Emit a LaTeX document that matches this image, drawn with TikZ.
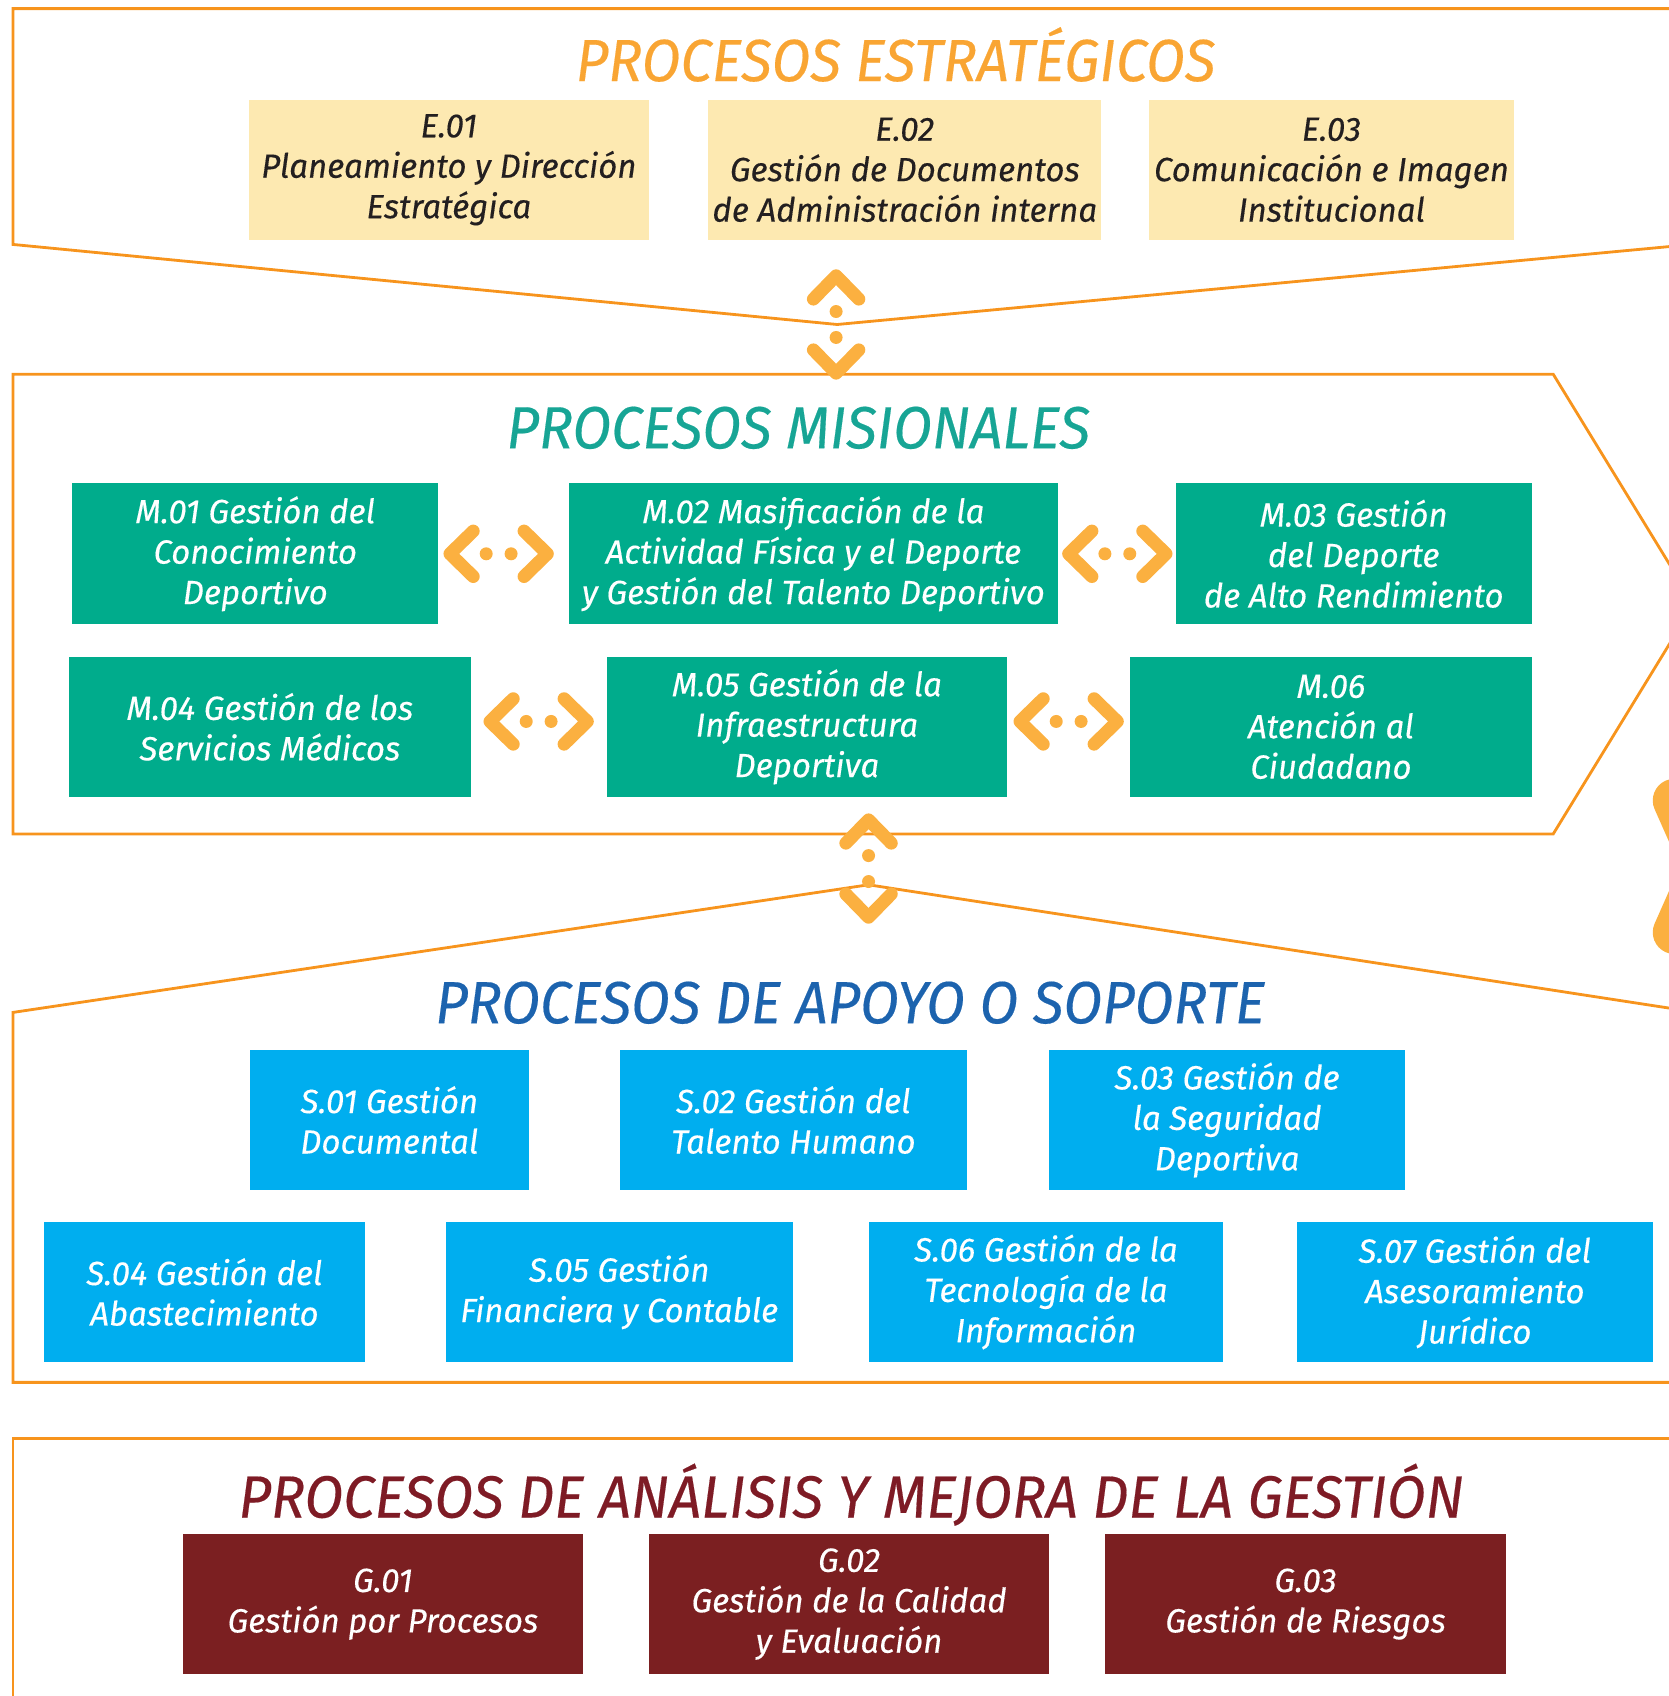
\documentclass[tikz,border=0pt]{standalone}
\usepackage{fontspec}
\setmainfont{Fira Sans}
\newfontfamily\boxfont[FakeStretch=0.985,FakeBold=0.3]{Fira Sans}
\newfontfamily\titlefont[FakeStretch=0.95,FakeBold=0.3]{Fira Sans}

\definecolor{lineorange}{HTML}{F7941D}
\definecolor{iconorange}{HTML}{FBB040}
\definecolor{titleorange}{HTML}{F9A533}
\definecolor{eyellow}{HTML}{FDE9B1}
\definecolor{textdark}{HTML}{231F20}
\definecolor{titleteal}{HTML}{17A595}
\definecolor{boxteal}{HTML}{00AC8C}
\definecolor{titleblue}{HTML}{1C63AE}
\definecolor{boxblue}{HTML}{00AEEF}
\definecolor{titlered}{HTML}{7E1B25}
\definecolor{boxred}{HTML}{7B1F21}

\begin{document}
\begin{tikzpicture}[x=0.5pt,y=-0.5pt]
		\tikzstyle{frame}=[draw=lineorange,line width=1.3pt]
		\tikzstyle{box}=[inner sep=0pt,align=center,minimum height=65pt,font=\boxfont\itshape\fontsize{15.5}{18.7}\selectfont]
		\tikzstyle{ebox}=[box,fill=eyellow,text=textdark]
		\tikzstyle{mbox}=[box,fill=boxteal,text=white]
		\tikzstyle{sbox}=[box,fill=boxblue,text=white,minimum height=64.5pt]
		\tikzstyle{gbox}=[box,fill=boxred,text=white]
		\tikzstyle{title}=[inner sep=0pt,anchor=base,font=\titlefont\itshape\fontsize{27.5}{30}\selectfont]
		\tikzstyle{chev}=[draw=iconorange,line width=6pt,line cap=round,line join=round]
		\tikzset{
			hlink/.pic={
				\draw[chev] (-23.5,-21) -- (-45,0) -- (-23.5,21);
				\draw[chev] (23.5,-21) -- (45,0) -- (23.5,21);
				\fill[iconorange] (-11.5,0) circle (3pt) (11.5,0) circle (3pt);
			},
			vlink/.pic={
				\draw[chev] (-21,-23.5) -- (0,-45) -- (21,-23.5);
				\draw[chev] (-21,23.5) -- (0,45) -- (21,23.5);
				\fill[iconorange] (0,-12) circle (3pt) (0,12) circle (3pt);
			}
		}
		\useasboundingbox (0,0) rectangle (1543,1568);
		\clip (0,0) rectangle (1543,1568);
		
		% frames
		\draw[frame] (1560,8) -- (12,8) -- (12,226) -- (774,300) -- (1560,226.4);
		\draw[frame] (12,346) -- (1436,346) -- (1566,558.5) -- (1436,771) -- (12,771) -- cycle;
		\draw[frame] (1560,934.6) -- (803,818) -- (12,936) -- (12,1278) -- (1560,1278);
		\draw[frame] (1560,1330) -- (12,1330) -- (12,1580);
		
		\node[title,text=titleorange](tE) at (828,75){PROCESOS ESTRATÉGICOS};
		\node[title,text=titleteal](tM) at (738,414.5){PROCESOS MISIONALES};
		\node[title,text=titleblue](tS) at (786,946){PROCESOS DE APOYO O SOPORTE};
		\node[title,text=titlered](tG) at (787,1403){PROCESOS DE ANÁLISIS Y MEJORA DE LA GESTIÓN};
		
		\node[ebox,minimum width=185pt](e01) at (415,157){E.01\\Planeamiento y Dirección\\Estratégica};
		\node[ebox,minimum width=181.5pt](e02) at (836.5,157){E.02\\Gestión de Documentos\\de Administración interna};
		\node[ebox,minimum width=169pt](e03) at (1231,157){E.03\\Comunicación e Imagen\\Institucional};
		
		\node[mbox,minimum width=169pt](m01) at (236,512){M.01 Gestión del\\Conocimiento\\Deportivo};
		\node[mbox,minimum width=226pt](m02) at (752,512){M.02 Masificación de la\\Actividad Física y el Deporte\\y Gestión del Talento Deportivo};
		\node[mbox,minimum width=164.5pt](m03) at (1251.5,512){M.03 Gestión\\del Deporte\\de Alto Rendimiento};
		\node[mbox,minimum width=185.5pt](m04) at (249.5,672){M.04 Gestión de los\\Servicios Médicos};
		\node[mbox,minimum width=185pt](m05) at (746,672){M.05 Gestión de la\\Infraestructura\\Deportiva};
		\node[mbox,minimum width=185.5pt](m06) at (1230.5,672){M.06\\Atención al\\Ciudadano};
		
		\node[sbox,minimum width=129pt](s01) at (360,1035.5){S.01 Gestión\\Documental};
		\node[sbox,minimum width=160.5pt](s02) at (733.5,1035.5){S.02 Gestión del\\Talento Humano};
		\node[sbox,minimum width=164.5pt](s03) at (1134.5,1035.5){S.03 Gestión de\\la Seguridad\\Deportiva};
		\node[sbox,minimum width=148pt](s04) at (189,1194.5){S.04 Gestión del\\Abastecimiento};
		\node[sbox,minimum width=160.5pt](s05) at (572.5,1194.5){S.05 Gestión\\Financiera y Contable};
		\node[sbox,minimum width=164pt](s06) at (967,1194.5){S.06 Gestión de la\\Tecnología de la\\Información};
		\node[sbox,minimum width=164.5pt](s07) at (1363.5,1194.5){S.07 Gestión del\\Asesoramiento\\Jurídico};
		
		\node[gbox,minimum width=185pt](g01) at (354,1483){G.01\\Gestión por Procesos};
		\node[gbox,minimum width=185pt](g02) at (785,1483){G.02\\Gestión de la Calidad\\y Evaluación};
		\node[gbox,minimum width=185pt](g03) at (1207,1483){G.03\\Gestión de Riesgos};
		
		\pic at (773,300) {vlink};
		\pic at (803,803) {vlink};
		\pic at (461,512) {hlink};
		\pic at (1033,512) {hlink};
		\pic at (498,667) {hlink};
		\pic at (988,667) {hlink};
		
		%\draw[chev] (1548,740) -- (1575,801) -- (1548,862);
		\draw[draw=iconorange,line width=20pt,line cap=round,line join=round] (1548,740) -- (1575,801) -- (1548,862);
\end{tikzpicture}
\end{document}
